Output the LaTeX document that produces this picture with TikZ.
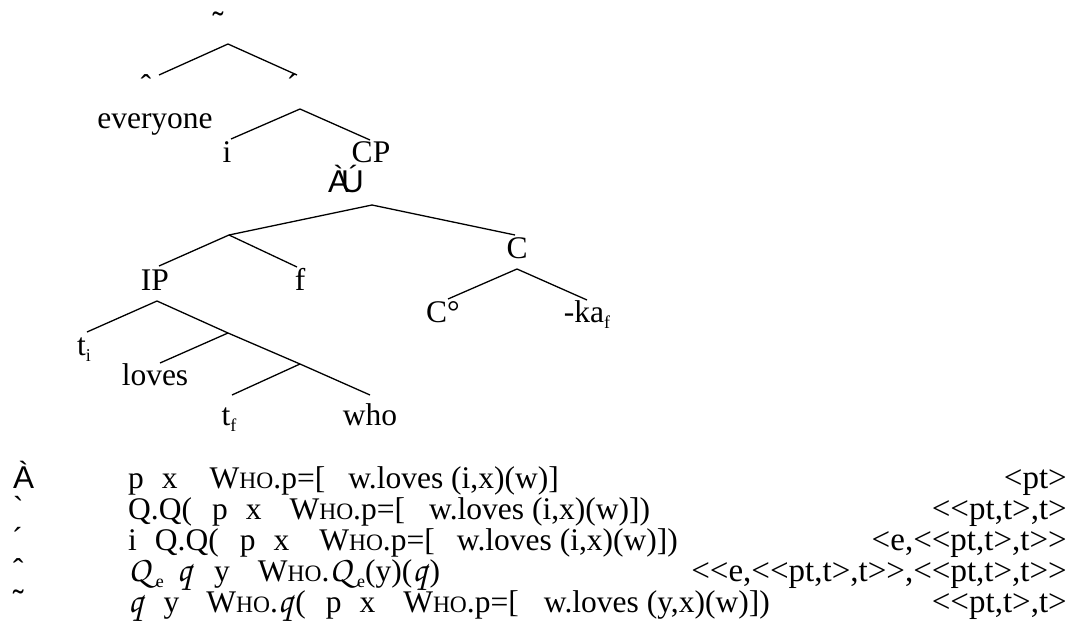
\documentclass[tikz,border=0pt]{standalone}
\usepackage{fontspec}
\setmainfont{Liberation Serif}[Ligatures=TeXOff]
\newfontfamily\marksf{Liberation Sans}
\newcommand{\WHO}{W{\fontsize{23.5}{24}\selectfont HO}}
\newcommand{\lowr}[1]{\raisebox{-6pt}{\fontsize{18}{18}\selectfont #1}}
\newcommand{\scrQ}{{\fontsize{36}{36}\usefont{OT1}{pzc}{m}{it}Q}\kern6pt}
\newcommand{\scrq}{{\fontsize{36}{36}\usefont{OT1}{pzc}{m}{it}q}\kern3pt}

\begin{document}
\begin{tikzpicture}[x=1pt, y=-1pt,
  lbl/.style={anchor=base, inner sep=0pt, font=\fontsize{31.5}{32}\selectfont},
  glyph/.style={lbl, font=\marksf\fontsize{31.5}{32}\selectfont},
  formula/.style={lbl, anchor=base west},
  typ/.style={lbl, anchor=base east, font=\fontsize{33}{33}\selectfont},
  arm/.style={line width=1.3pt},
]
\useasboundingbox (0,0) rectangle (1073,626);
%%%top of the tree
\node[glyph] (root) at (218,35) {˜};
\coordinate (rootA) at (228,44);
\coordinate (lftT) at (159,75);
\coordinate (rgtT) at (297,75);
\node[glyph] (lft) at (146,97) {ˆ};
\node[glyph] (rgt) at (293,97) {´};
\node[lbl] (every) at (155,128) {everyone};
\draw[arm] (lftT) -- (rootA) -- (rgtT);
\coordinate (rgtA) at (300,109);
\coordinate (iT) at (231,139);
\coordinate (cpT) at (370,140);
\node[lbl] (iN) at (227,162) {i};
\node[lbl] (cp) at (371,162) {CP};
\node[glyph] (au) at (346,192) {À\kern-8ptÚ};
\draw[arm] (iT) -- (rgtA) -- (cpT);
%%%CP
\coordinate (cpA) at (372,205);
\coordinate (ipf) at (229,235);
\coordinate (cT) at (515,235);
\draw[arm] (ipf) -- (cpA) -- (cT);
\coordinate (ipT) at (159,266);
\coordinate (fT) at (297,267);
\node[lbl] (ip) at (155,290) {IP};
\node[lbl] (fN) at (300,290) {f};
\draw[arm] (ipT) -- (ipf) -- (fT);
\node[lbl] (cN) at (517,258) {C};
\coordinate (cA) at (517,269);
\coordinate (c0T) at (448,299);
\coordinate (kaT) at (587,300);
\node[lbl] (c0) at (443,322) {C°};
\node[lbl] (ka) at (587,322) {-ka\lowr{f}};
\draw[arm] (c0T) -- (cA) -- (kaT);
%%%IP
\coordinate (ipA) at (157,301);
\coordinate (tiT) at (87,332);
\coordinate (vp) at (228,333);
\node[lbl] (ti) at (84,355) {t\lowr{i}};
\draw[arm] (tiT) -- (ipA) -- (vp);
\coordinate (lovesT) at (160,363);
\coordinate (vb) at (300,364);
\node[lbl] (loves) at (155,385) {loves};
\draw[arm] (lovesT) -- (vp) -- (vb);
\coordinate (tfT) at (232,395);
\coordinate (whoT) at (370,395);
\node[lbl] (tf) at (229,425) {t\lowr{f}};
\node[lbl] (who) at (370,425) {who};
\draw[arm] (tfT) -- (vb) -- (whoT);
%%%derivation
\node[glyph, anchor=base west] (n1) at (13,488) {À};
\node[glyph, anchor=base west] (n2) at (13,519) {`};
\node[glyph, anchor=base west] (n3) at (13,550) {´};
\node[glyph, anchor=base west] (n4) at (13,581) {ˆ};
\node[glyph, anchor=base west] (n5) at (13,612) {˜};
\node[formula] (f1) at (128,488) {p\hspace{18pt}x\hspace{32pt}\WHO.p=[\hspace{23pt}w.loves (i,x)(w)]};
\node[formula] (f2) at (128,519) {Q.Q(\hspace{20pt}p\hspace{18pt}x\hspace{28pt}\WHO.p=[\hspace{24pt}w.loves (i,x)(w)])};
\node[formula] (f3) at (128,550) {i\hspace{18pt}Q.Q(\hspace{21pt}p\hspace{18pt}x\hspace{30pt}\WHO.p=[\hspace{22pt}w.loves (i,x)(w)])};
\node[formula] (f4) at (128,581) {\scrQ\lowr{e}\hspace{13pt}\scrq\hspace{20pt}y\hspace{28pt}\WHO.\scrQ\lowr{e}(y)(\scrq)};
\node[formula] (f5) at (128,612) {\scrq\hspace{18pt}y\hspace{27pt}\WHO.\scrq(\hspace{20pt}p\hspace{18pt}x\hspace{28pt}\WHO.p=[\hspace{25pt}w.loves (y,x)(w)])};
\node[typ] (t1) at (1067,488) {<pt>};
\node[typ] (t2) at (1067,519) {<<pt,t>,t>};
\node[typ] (t3) at (1067,550) {<e,<<pt,t>,t>>};
\node[typ] (t4) at (1067,581) {<<e,<<pt,t>,t>>,<<pt,t>,t>>};
\node[typ] (t5) at (1067,612) {<<pt,t>,t>};
\end{tikzpicture}
\end{document}
